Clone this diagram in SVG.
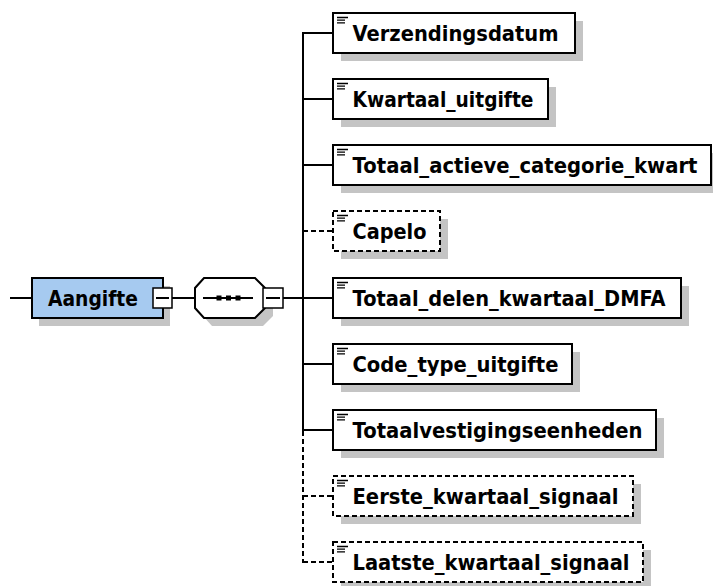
<svg xmlns="http://www.w3.org/2000/svg" width="713" height="586" viewBox="0 0 713 586">
<style>
.bg{fill:#fff}
.sh{fill:#c4c4c4;stroke:none}
.box{fill:#fff;stroke:#000;stroke-width:2}
.dbox{fill:#fff;stroke:#000;stroke-width:2;stroke-dasharray:5 3}
.glob{fill:#a6caf0;stroke:#000;stroke-width:2}
.ln{fill:none;stroke:#000;stroke-width:2}
.dln{fill:none;stroke:#000;stroke-width:2;stroke-dasharray:5 3}
.ico{fill:none;stroke:#000;stroke-width:1.3}
.t{font-family:"DejaVu Sans",Verdana,sans-serif;font-weight:bold;font-size:20.5px;fill:#000}
.mb{fill:#fff;stroke:#000;stroke-width:1.5}
</style>
<rect class="bg" width="713" height="586"/>
<g id="connectors">
<line class="ln" x1="10" y1="298" x2="32" y2="298"/>
<line class="ln" x1="172" y1="298" x2="195" y2="298"/>
<line class="ln" x1="283" y1="298" x2="303" y2="298"/>
<line class="ln" x1="303" y1="32" x2="303" y2="431"/>
<line class="dln" x1="303" y1="431" x2="303" y2="563"/>
<line class="ln" x1="303" y1="33" x2="333" y2="33"/>
<line class="ln" x1="303" y1="99" x2="333" y2="99"/>
<line class="ln" x1="303" y1="165" x2="333" y2="165"/>
<line class="dln" x1="303" y1="231" x2="333" y2="231"/>
<line class="ln" x1="303" y1="298" x2="333" y2="298"/>
<line class="ln" x1="303" y1="364" x2="333" y2="364"/>
<line class="ln" x1="303" y1="430" x2="333" y2="430"/>
<line class="dln" x1="303" y1="496" x2="333" y2="496"/>
<line class="dln" x1="303" y1="562" x2="333" y2="562"/>
</g>
<g id="Aangifte">
<rect class="sh" x="39" y="286" width="131" height="40"/>
<rect class="glob" x="32" y="278" width="131" height="40"/>
<text class="t" x="48" y="306" textLength="90" lengthAdjust="spacingAndGlyphs">Aangifte</text>
<rect class="mb" x="153" y="288" width="19" height="20"/>
<line class="ln" x1="156" y1="298" x2="169" y2="298" stroke-width="1.5"/>
</g>
<g id="sequence">
<polygon class="sh" points="212,286 263,286 273,296 273,316 263,326 212,326 203,316 203,296"/>
<polygon class="box" points="204,278 255,278 265,288 265,308 255,318 204,318 195,308 195,288"/>
<line class="ln" x1="203" y1="298" x2="253" y2="298" stroke-width="1.5"/>
<rect x="216.5" y="295.5" width="5" height="5" fill="#000"/>
<rect x="226" y="295.5" width="5" height="5" fill="#000"/>
<rect x="235.5" y="295.5" width="5" height="5" fill="#000"/>
<rect class="mb" x="263" y="288" width="20" height="20"/>
<line class="ln" x1="266" y1="298" x2="280" y2="298" stroke-width="1.5"/>
</g>
<g id="Verzendingsdatum">
<rect class="sh" x="341" y="21" width="242" height="40"/>
<rect class="box" x="333" y="13" width="242" height="40"/>
<path class="ico" d="M337 17.5h11M337 20.2h8M337 22.9h8"/>
<text class="t" x="352.5" y="41" textLength="206" lengthAdjust="spacingAndGlyphs">Verzendingsdatum</text>
</g>
<g id="Kwartaal_uitgifte">
<rect class="sh" x="341" y="87" width="215" height="40"/>
<rect class="box" x="333" y="79" width="215" height="40"/>
<path class="ico" d="M337 83.5h11M337 86.2h8M337 88.9h8"/>
<text class="t" x="352.5" y="107" textLength="181" lengthAdjust="spacingAndGlyphs">Kwartaal_uitgifte</text>
</g>
<g id="Totaal_actieve_categorie_kwart">
<rect class="sh" x="341" y="153" width="378" height="40"/>
<rect class="box" x="333" y="145" width="378" height="40"/>
<path class="ico" d="M337 149.5h11M337 152.2h8M337 154.9h8"/>
<text class="t" x="352.5" y="173" textLength="345" lengthAdjust="spacingAndGlyphs">Totaal_actieve_categorie_kwart</text>
</g>
<g id="Capelo">
<rect class="sh" x="341" y="219" width="107" height="40"/>
<rect class="dbox" x="333" y="211" width="107" height="40"/>
<path class="ico" d="M337 215.5h11M337 218.2h8M337 220.9h8"/>
<text class="t" x="352.5" y="239" textLength="74" lengthAdjust="spacingAndGlyphs">Capelo</text>
</g>
<g id="Totaal_delen_kwartaal_DMFA">
<rect class="sh" x="341" y="286" width="348" height="40"/>
<rect class="box" x="333" y="278" width="348" height="40"/>
<path class="ico" d="M337 282.5h11M337 285.2h8M337 287.9h8"/>
<text class="t" x="352.5" y="306" textLength="313" lengthAdjust="spacingAndGlyphs">Totaal_delen_kwartaal_DMFA</text>
</g>
<g id="Code_type_uitgifte">
<rect class="sh" x="341" y="352" width="239" height="40"/>
<rect class="box" x="333" y="344" width="239" height="40"/>
<path class="ico" d="M337 348.5h11M337 351.2h8M337 353.9h8"/>
<text class="t" x="352.5" y="372" textLength="206" lengthAdjust="spacingAndGlyphs">Code_type_uitgifte</text>
</g>
<g id="Totaalvestigingseenheden">
<rect class="sh" x="341" y="418" width="323" height="40"/>
<rect class="box" x="333" y="410" width="323" height="40"/>
<path class="ico" d="M337 414.5h11M337 417.2h8M337 419.9h8"/>
<text class="t" x="352.5" y="438" textLength="290" lengthAdjust="spacingAndGlyphs">Totaalvestigingseenheden</text>
</g>
<g id="Eerste_kwartaal_signaal">
<rect class="sh" x="341" y="484" width="300" height="40"/>
<rect class="dbox" x="333" y="476" width="300" height="40"/>
<path class="ico" d="M337 480.5h11M337 483.2h8M337 485.9h8"/>
<text class="t" x="352.5" y="504" textLength="266" lengthAdjust="spacingAndGlyphs">Eerste_kwartaal_signaal</text>
</g>
<g id="Laatste_kwartaal_signaal">
<rect class="sh" x="341" y="550" width="310" height="40"/>
<rect class="dbox" x="333" y="542" width="310" height="40"/>
<path class="ico" d="M337 546.5h11M337 549.2h8M337 551.9h8"/>
<text class="t" x="352.5" y="570" textLength="277" lengthAdjust="spacingAndGlyphs">Laatste_kwartaal_signaal</text>
</g>
</svg>
